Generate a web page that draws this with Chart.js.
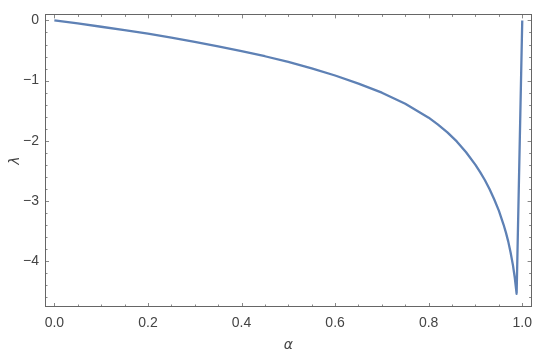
<!DOCTYPE html>
<html>
<head>
<meta charset="utf-8">
<script src="https://cdn.jsdelivr.net/npm/chart.js@4/dist/chart.umd.min.js"></script>
<style>
  html, body { margin: 0; padding: 0; background: #fff; }
  #wrap { width: 540px; height: 354px; }
</style>
</head>
<body>
<div id="wrap"><canvas id="c"></canvas></div>
<script>
// values
var alpha = [0, 0.05, 0.1, 0.15, 0.2, 0.25, 0.3, 0.35, 0.4, 0.45, 0.5, 0.55, 0.6, 0.65, 0.7, 0.75, 0.8, 0.82, 0.84, 0.86, 0.88, 0.9, 0.91, 0.92, 0.93, 0.94, 0.95, 0.96, 0.965, 0.97, 0.975, 0.98, 0.984, 0.988, 1.0];
var lambda = [0, -0.05, -0.105, -0.16, -0.22, -0.285, -0.355, -0.43, -0.51, -0.595, -0.69, -0.795, -0.915, -1.05, -1.2, -1.385, -1.615, -1.73, -1.86, -2.01, -2.19, -2.4, -2.52, -2.65, -2.8, -2.97, -3.16, -3.39, -3.52, -3.67, -3.85, -4.06, -4.27, -4.54, 0];
var xTicks = [0, 0.2, 0.4, 0.6, 0.8, 1.0];
var yTicks = [0, -1, -2, -3, -4];
var xMinor = [0.05, 0.1, 0.15, 0.25, 0.3, 0.35, 0.45, 0.5, 0.55, 0.65, 0.7, 0.75, 0.85, 0.9, 0.95];
var yMinor = [-0.2, -0.4, -0.6, -0.8, -1.2, -1.4, -1.6, -1.8, -2.2, -2.4, -2.6, -2.8, -3.2, -3.4, -3.6, -3.8, -4.2, -4.4, -4.6];

var pts = [];
for (var i = 0; i < alpha.length; i++) pts.push({x: alpha[i], y: lambda[i]});

function minus(s) { return s.replace('-', '\u2212'); }

// inward frame ticks, Mathematica style
var frameTicks = {
  id: 'frameTicks',
  afterDraw: function (chart) {
    var ctx = chart.ctx, a = chart.chartArea;
    var sx = chart.scales.x, sy = chart.scales.y;
    ctx.save();
    ctx.strokeStyle = '#888';
    ctx.lineWidth = 1;
    function vt(list, len) {
      list.forEach(function (v) {
        var p = Math.round(sx.getPixelForValue(v)) + 0.5;
        ctx.beginPath();
        ctx.moveTo(p, a.bottom); ctx.lineTo(p, a.bottom - len);
        ctx.moveTo(p, a.top); ctx.lineTo(p, a.top + len);
        ctx.stroke();
      });
    }
    function ht(list, len) {
      list.forEach(function (v) {
        var p = Math.round(sy.getPixelForValue(v)) + 0.5;
        ctx.beginPath();
        ctx.moveTo(a.left, p); ctx.lineTo(a.left + len, p);
        ctx.moveTo(a.right, p); ctx.lineTo(a.right - len, p);
        ctx.stroke();
      });
    }
    vt(xTicks, 4); vt(xMinor, 2.5);
    ht(yTicks, 4); ht(yMinor, 2.5);
    // frame
    ctx.strokeStyle = '#666';
    ctx.lineWidth = 1;
    ctx.strokeRect(Math.round(a.left) + 0.5, Math.round(a.top) + 0.5,
      Math.round(a.right - a.left) - 1, Math.round(a.bottom - a.top) - 1);
    ctx.restore();
  }
};

new Chart(document.getElementById('c'), {
  type: 'scatter',
  data: {
    datasets: [{
      data: pts,
      showLine: true,
      borderColor: '#5E81B5',
      borderWidth: 2.3,
      borderJoinStyle: 'round',
      pointRadius: 0,
      tension: 0,
      fill: false
    }]
  },
  options: {
    responsive: true,
    maintainAspectRatio: false,
    animation: false,
    layout: { padding: { top: 2, right: 1, left: 0, bottom: 0 } },
    plugins: { legend: { display: false }, tooltip: { enabled: false } },
    scales: {
      x: {
        type: 'linear',
        min: -0.02, max: 1.02,
        afterBuildTicks: function (s) { s.ticks = xTicks.map(function (v) { return {value: v}; }); },
        afterFit: function (s) { s.height = 47; },
        grid: { display: false, drawTicks: false },
        border: { display: false },
        ticks: {
          padding: 8,
          color: '#444',
          font: { family: 'Liberation Sans', size: 14 },
          maxRotation: 0,
          callback: function (v) { return minus(v.toFixed(1)); }
        },
        title: {
          display: true, text: '\u03b1', color: '#444', padding: { top: 2, bottom: 0 },
          font: { family: 'DejaVu Sans', size: 14, style: 'italic' }
        }
      },
      y: {
        type: 'linear',
        min: -4.76, max: 0.1,
        afterBuildTicks: function (s) { s.ticks = yTicks.map(function (v) { return {value: v}; }); },
        afterFit: function (s) { s.width = 45; },
        grid: { display: false, drawTicks: false },
        border: { display: false },
        ticks: {
          padding: 6,
          color: '#444',
          font: { family: 'Liberation Sans', size: 14 },
          callback: function (v) { return minus(String(v)); }
        },
        title: {
          display: true, text: '\u03bb', color: '#444', padding: { top: 7, bottom: 0 },
          font: { family: 'DejaVu Sans', size: 14, style: 'italic' }
        }
      }
    }
  },
  plugins: [frameTicks]
});
</script>
</body>
</html>
